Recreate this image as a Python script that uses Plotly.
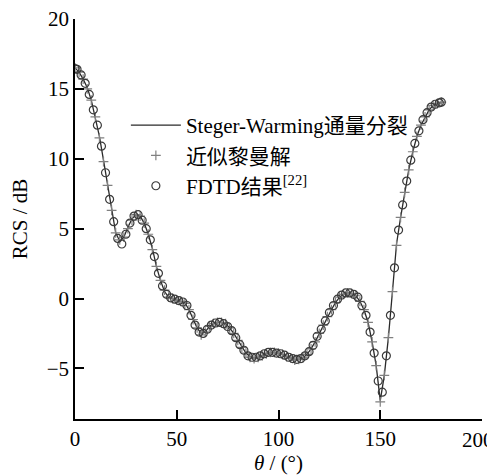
import plotly.graph_objects as go

# Steger-Warming flux splitting (solid line), angles in degrees
sw_theta = list(range(0, 181, 2))
sw_rcs = [16.5, 16.2, 15.7, 15.1, 14.2, 13.0, 11.6, 9.9, 8.1, 6.2,
          4.7, 4.1, 4.4, 5.1, 5.7, 6.0, 5.9, 5.4, 4.6, 3.6,
          2.3, 1.3, 0.5, 0.1, 0.0, -0.1, -0.2, -0.3, -0.8, -1.5,
          -2.1, -2.5, -2.4, -2.0, -1.8, -1.7, -1.7, -1.8, -2.1, -2.5,
          -3.0, -3.5, -3.9, -4.15, -4.25, -4.2, -4.05, -3.95, -3.85, -3.85,
          -3.9, -4.0, -4.1, -4.25, -4.35, -4.35, -4.25, -4.0, -3.6, -3.1,
          -2.5, -1.9, -1.3, -0.8, -0.3, 0.1, 0.3, 0.4, 0.35, 0.2,
          -0.2, -0.8, -1.7, -3.1, -4.8, -7.3, -5.5, -2.8, 0.5, 3.9,
          5.8, 7.6, 9.2, 10.5, 11.6, 12.4, 13.0, 13.5, 13.8, 13.95,
          14.05]

# Approximate Riemann solver (+ markers)
ar_theta = list(range(0, 181, 2))
ar_rcs = [16.5, 16.2, 15.7, 15.0, 14.2, 13.0, 11.5, 9.8, 8.1, 6.3,
          4.7, 4.2, 4.4, 5.0, 5.6, 6.0, 5.9, 5.4, 4.6, 3.5,
          2.3, 1.3, 0.6, 0.1, 0.0, -0.1, -0.2, -0.35, -0.8, -1.5,
          -2.1, -2.6, -2.4, -2.0, -1.8, -1.7, -1.7, -1.8, -2.1, -2.5,
          -3.0, -3.5, -3.9, -4.2, -4.3, -4.2, -4.1, -3.95, -3.85, -3.85,
          -3.9, -4.0, -4.15, -4.25, -4.4, -4.35, -4.25, -4.0, -3.6, -3.1,
          -2.5, -1.9, -1.3, -0.8, -0.3, 0.1, 0.3, 0.4, 0.35, 0.2,
          -0.2, -0.8, -1.7, -3.1, -4.8, -7.4, -5.5, -2.8, 0.5, 3.8,
          5.8, 7.6, 9.2, 10.5, 11.6, 12.4, 13.0, 13.5, 13.8, 13.95,
          14.05]

# FDTD result (open circles)
fd_theta = [0] + list(range(1, 180, 2)) + [180]
fd_rcs = [16.45,
          16.4, 16.0, 15.4, 14.6, 13.5, 12.4, 10.9, 9.0, 7.1, 5.5,
          4.3, 3.9, 4.6, 5.4, 5.9, 6.0, 5.6, 5.0, 4.2, 3.0,
          1.8, 0.9, 0.3, 0.05, -0.05, -0.15, -0.25, -0.5, -1.2, -1.9,
          -2.4, -2.5, -2.2, -1.9, -1.75, -1.7, -1.8, -2.0, -2.3, -2.8,
          -3.3, -3.7, -4.1, -4.2, -4.2, -4.1, -3.95, -3.85, -3.85, -3.9,
          -3.95, -4.05, -4.2, -4.3, -4.35, -4.3, -4.1, -3.8, -3.35, -2.7,
          -2.2, -1.6, -1.0, -0.5, -0.05, 0.25, 0.4, 0.4, 0.3, 0.1,
          -0.5, -1.2, -2.4, -3.9, -5.9, -6.7, -4.1, -1.2, 2.2, 4.9,
          6.7, 8.4, 9.9, 11.1, 12.0, 12.8, 13.3, 13.7, 13.9, 14.0,
          14.05]

x_ticks = [0, 50, 100, 150, 200]
# last label is drawn separately, nudged left so it stays inside the window
x_ticktext = ["0", "50", "100", "150", ""]
x_last_label = "200"
y_ticks = [-5, 0, 5, 10, 15, 20]
y_ticktext = ["−5", "0", "5", "10", "15", "20"]

FONT = "Times New Roman, Liberation Serif, Noto Sans CJK SC, serif"
FS = 21

fig = go.Figure()
fig.add_trace(go.Scatter(
    x=sw_theta, y=sw_rcs, mode="lines", name="Steger-Warming通量分裂",
    line=dict(color="#2a2a2a", width=1.3)))
fig.add_trace(go.Scatter(
    x=ar_theta, y=ar_rcs, mode="markers", name="近似黎曼解",
    marker=dict(symbol="cross-thin", size=7, color="#808080",
                line=dict(color="#808080", width=1.2))))
fig.add_trace(go.Scatter(
    x=fd_theta, y=fd_rcs, mode="markers", name="FDTD结果<sup>[22]</sup>",
    marker=dict(symbol="circle-open", size=8, color="#3a3a3a",
                line=dict(color="#3a3a3a", width=1.2))))

axis_common = dict(
    showline=True, linecolor="black", linewidth=1.5, mirror=False,
    ticks="inside", ticklen=9, tickwidth=1.5, tickcolor="black",
    showgrid=False, zeroline=False, automargin=False,
    ticklabeloverflow="allow",
    tickfont=dict(family=FONT, size=FS, color="black"),
)

# the page body adds an 8px offset, so margins are shifted by 8px
fig.update_layout(
    width=495, height=476,
    margin=dict(l=67, r=21, t=11, b=65),
    paper_bgcolor="white", plot_bgcolor="white",
    font=dict(family=FONT, size=FS, color="black"),
    xaxis=dict(range=[0, 200], tickvals=x_ticks, ticktext=x_ticktext, **axis_common,
               title=dict(text="<i>θ</i> / (°)", font=dict(family=FONT, size=FS), standoff=4)),
    yaxis=dict(range=[-8.62, 20], tickvals=y_ticks, ticktext=y_ticktext,
               **axis_common,
               title=dict(text="RCS / dB", font=dict(family=FONT, size=FS), standoff=27)),
    legend=dict(x=0.125, y=0.785, xanchor="left", yanchor="top",
                bgcolor="rgba(0,0,0,0)", font=dict(family=FONT, size=FS),
                itemwidth=50, tracegroupgap=0),
    showlegend=True,
    annotations=[dict(text=x_last_label, x=x_ticks[-1], xref="x", y=0, yref="paper",
                      xanchor="center", yanchor="top", xshift=-4, yshift=-7,
                      showarrow=False, font=dict(family=FONT, size=FS, color="black"))],
)

fig.write_html("out.html")
